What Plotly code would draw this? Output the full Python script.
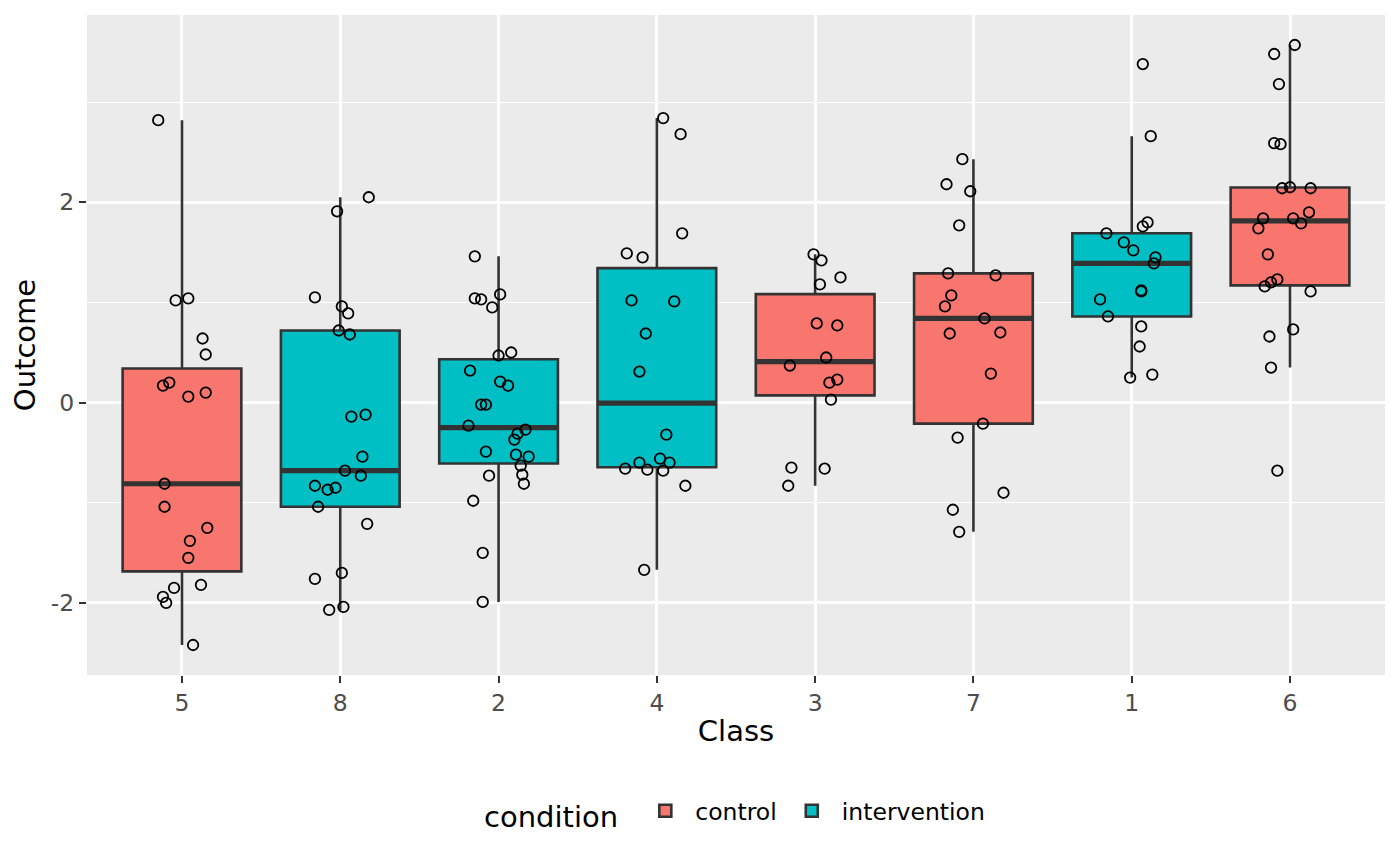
import numpy as np
import plotly.graph_objects as go

# classes in the order shown on the x axis
classes = ["5", "8", "2", "4", "3", "7", "1", "6"]
conditions = ["control", "intervention", "intervention", "intervention",
              "control", "control", "intervention", "control"]

# outcome values per class, with the horizontal jitter
class5_y = [2.82, 1.02, 1.04, 0.64, 0.48, 0.17, 0.20, 0.06, 0.10, -0.81, -1.04,
            -1.25, -1.38, -1.55, -1.85, -1.82, -1.94, -2.00, -2.42]
class5_dx = [-0.15, -0.04, 0.04, 0.13, 0.15, -0.12, -0.08, 0.04, 0.15, -0.11, -0.11,
             0.16, 0.05, 0.04, -0.05, 0.12, -0.12, -0.10, 0.07]

class8_y = [2.05, 1.91, 1.05, 0.96, 0.89, 0.72, 0.68, -0.14, -0.12, -0.54, -0.68,
            -0.73, -0.83, -0.87, -0.85, -1.04, -1.21, -1.70, -1.76, -2.04, -2.07]
class8_dx = [0.18, -0.02, -0.16, 0.01, 0.05, -0.01, 0.06, 0.07, 0.16, 0.14, 0.03,
             0.13, -0.16, -0.08, -0.03, -0.14, 0.17, 0.01, -0.16, 0.02, -0.07]

class2_y = [1.46, 1.04, 1.03, 1.08, 0.95, 0.47, 0.50, 0.32, 0.21, 0.17, -0.02, -0.02,
            -0.23, -0.27, -0.31, -0.37, -0.49, -0.52, -0.54, -0.63, -0.72, -0.73,
            -0.81, -0.98, -1.50, -1.99]
class2_dx = [-0.15, -0.15, -0.11, 0.01, -0.04, 0.00, 0.08, -0.18, 0.01, 0.06, -0.11, -0.08,
             -0.19, 0.17, 0.12, 0.10, -0.08, 0.11, 0.19, 0.14, 0.15, -0.06,
             0.16, -0.16, -0.10, -0.10]

class4_y = [2.84, 2.68, 1.69, 1.49, 1.45, 1.02, 1.01, 0.69, 0.31, -0.32, -0.56,
            -0.60, -0.60, -0.66, -0.67, -0.68, -0.83, -1.67]
class4_dx = [0.04, 0.15, 0.16, -0.19, -0.09, -0.16, 0.11, -0.07, -0.11, 0.06, 0.02,
             -0.11, 0.08, -0.20, -0.06, 0.04, 0.18, -0.08]

class3_y = [1.48, 1.42, 1.25, 1.18, 0.79, 0.77, 0.45, 0.37, 0.23, 0.20, 0.03,
            -0.65, -0.66, -0.83]
class3_dx = [-0.01, 0.04, 0.16, 0.03, 0.01, 0.14, 0.07, -0.16, 0.14, 0.09, 0.10,
             -0.15, 0.06, -0.17]

class7_y = [2.43, 2.18, 2.11, 1.77, 1.29, 1.27, 1.07, 0.96, 0.84, 0.69, 0.70, 0.29,
            -0.21, -0.35, -0.90, -1.07, -1.29]
class7_dx = [-0.07, -0.17, -0.02, -0.09, -0.16, 0.14, -0.14, -0.18, 0.07, -0.15, 0.17, 0.11,
             0.06, -0.10, 0.19, -0.13, -0.09]

class1_y = [3.38, 2.66, 1.80, 1.76, 1.69, 1.60, 1.52, 1.45, 1.39, 1.12, 1.11, 1.03,
            0.86, 0.76, 0.56, 0.25, 0.28]
class1_dx = [0.07, 0.12, 0.10, 0.07, -0.16, -0.05, 0.01, 0.15, 0.14, 0.06, 0.06, -0.20,
             -0.15, 0.06, 0.05, -0.01, 0.13]

class6_y = [3.57, 3.48, 3.18, 2.59, 2.58, 2.14, 2.15, 2.14, 1.90, 1.84, 1.84, 1.79,
            1.74, 1.48, 1.23, 1.20, 1.16, 1.11, 0.73, 0.66, 0.35, -0.68]
class6_dx = [0.03, -0.10, -0.07, -0.10, -0.06, -0.05, 0.00, 0.13, 0.12, -0.17, 0.02, 0.07,
             -0.20, -0.14, -0.08, -0.12, -0.16, 0.13, 0.02, -0.13, -0.12, -0.08]

outcomes = [class5_y, class8_y, class2_y, class4_y, class3_y, class7_y, class1_y, class6_y]
jitters = [class5_dx, class8_dx, class2_dx, class4_dx, class3_dx, class7_dx, class1_dx, class6_dx]

fill_colors = {"control": "#F8766D", "intervention": "#00BFC4"}
edge = "#333333"
box_w = 0.75
positions = list(range(1, len(classes) + 1))
fnt = "DejaVu Sans"

fig = go.Figure()

# --- boxes (stats like ggplot: type-7 quantiles, 1.5*IQR whiskers) ---
med_x, med_y = [], []
for cond in ["control", "intervention"]:
    xs, q1s, meds, q3s, lows, highs = [], [], [], [], [], []
    for pos, c, ys in zip(positions, conditions, outcomes):
        if c != cond:
            continue
        v = np.array(ys)
        q1, med, q3 = np.percentile(v, [25, 50, 75])
        iqr = q3 - q1
        xs.append(pos)
        q1s.append(q1)
        meds.append(med)
        q3s.append(q3)
        lows.append(v[v >= q1 - 1.5 * iqr].min())
        highs.append(v[v <= q3 + 1.5 * iqr].max())
        med_x += [pos - box_w / 2, pos + box_w / 2, None]
        med_y += [med, med, None]
    fig.add_trace(go.Box(
        x=xs, q1=q1s, median=meds, q3=q3s, lowerfence=lows, upperfence=highs,
        name=cond, width=box_w, whiskerwidth=0,
        fillcolor=fill_colors[cond], line=dict(color=edge, width=2.6),
        hoverinfo="skip",
    ))

# thicker median bar
fig.add_trace(go.Scatter(
    x=med_x, y=med_y, mode="lines", line=dict(color=edge, width=5.2),
    showlegend=False, hoverinfo="skip",
))

# jittered raw points
for pos, ys, dxs in zip(positions, outcomes, jitters):
    fig.add_trace(go.Scatter(
        x=[pos + d for d in dxs], y=ys, mode="markers",
        marker=dict(symbol="circle-open", size=10.5, color="black", line=dict(width=1.8)),
        showlegend=False,
    ))

all_y = np.concatenate([np.array(o) for o in outcomes])
pad = (all_y.max() - all_y.min()) * 0.05
y_range = [all_y.min() - pad, all_y.max() + pad]

# page body has an 8px margin, so the figure is a bit smaller than the window
fig.update_layout(
    width=1392, height=857,
    paper_bgcolor="white", plot_bgcolor="#EBEBEB",
    margin=dict(l=79, r=15, t=7, b=190),
    font=dict(family=fnt, color="black"),
    boxmode="overlay",
    legend=dict(
        orientation="h", x=0.5, xanchor="center", y=-0.209, yanchor="middle",
        title=dict(text="condition ", side="left", font=dict(size=29)),
        font=dict(size=23.5), itemwidth=50,
    ),
    xaxis=dict(
        range=[0.4, len(classes) + 0.6], tickmode="array", tickvals=positions, ticktext=classes,
        showgrid=True, gridcolor="white", gridwidth=2.6, zeroline=False,
        ticks="outside", ticklen=7, tickwidth=2.4, tickcolor=edge,
        tickfont=dict(size=23.5, color="#4D4D4D"),
        title=dict(text="Class", font=dict(size=29), standoff=4),
    ),
    yaxis=dict(
        range=y_range, tickmode="array", tickvals=[-2, 0, 2], ticktext=["-2", "0", "2"],
        showgrid=True, gridcolor="white", gridwidth=2.6, zeroline=False,
        ticks="outside", ticklen=7, tickwidth=2.4, tickcolor=edge,
        tickfont=dict(size=23.5, color="#4D4D4D"),
        minor=dict(tickmode="array", tickvals=[-3, -1, 1, 3], showgrid=True,
                   gridcolor="white", gridwidth=1.3, ticks=""),
        title=dict(text="Outcome", font=dict(size=29), standoff=8),
    ),
)

fig.write_html("out.html")
